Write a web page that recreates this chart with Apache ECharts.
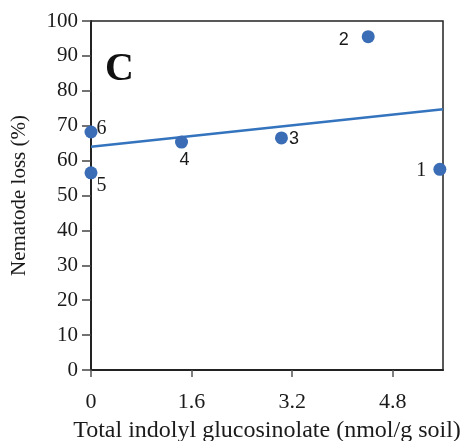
<!DOCTYPE html>
<html><head><meta charset="utf-8">
<script src="https://cdn.jsdelivr.net/npm/echarts@6/dist/echarts.min.js"></script>
<style>html,body{margin:0;padding:0;background:#fff}#c{width:465px;height:441px}</style>
</head><body><div id="c"></div>
<script>
const sampleIds = ['1','2','3','4','5','6'];
const indolyl = [5.55, 4.41, 3.03, 1.44, 0.0, 0.0];
const nematodeLoss = [57.5, 95.5, 66.5, 65.3, 56.5, 68.2];
const fitX = [0, 5.6];
const fitY = [64.0, 74.7];
const xTicks = [0, 1.6, 3.2, 4.8];
const yTicks = [0,10,20,30,40,50,60,70,80,90,100];

const serif = '"Liberation Serif","DejaVu Serif",serif';
const sans = '"Liberation Sans","DejaVu Sans",sans-serif';
const labelStyle = {
  '1':{position:'left',offset:[-2,1],fontFamily:serif,fontSize:20},
  '2':{position:'left',offset:[-8,3],fontFamily:sans,fontSize:18},
  '3':{position:'right',offset:[-4,1],fontFamily:sans,fontSize:18},
  '4':{position:'bottom',offset:[3,-3],fontFamily:sans,fontSize:18},
  '5':{position:'insideBottomRight',offset:[14,21],fontFamily:serif,fontSize:20},
  '6':{position:'insideTopRight',offset:[14,-12],fontFamily:serif,fontSize:20}
};

const chart = echarts.init(document.getElementById('c'));
chart.setOption({
  backgroundColor:'#fff',
  animation:false,
  grid:{left:91,right:22,top:21,bottom:71,outerBoundsMode:'none',containLabel:false,
    show:true,borderColor:'#222',borderWidth:1.5,backgroundColor:'transparent'},
  xAxis:{type:'value',min:0,max:5.6,interval:1.6,
    name:'Total indolyl glucosinolate (nmol/g soil)',nameLocation:'middle',nameGap:61,
    nameTextStyle:{fontFamily:serif,fontSize:24,color:'#1a1a1a',verticalAlign:'middle'},
    axisLine:{lineStyle:{color:'#222',width:2}},
    axisTick:{show:true,length:7,lineStyle:{color:'#555',width:1.5}},
    axisLabel:{showMaxLabel:false,fontFamily:serif,fontSize:22,color:'#1a1a1a',margin:21,
      formatter:v=>xTicks.includes(+v.toFixed(1))?String(+v.toFixed(1)):''},
    splitLine:{show:false}},
  yAxis:{type:'value',min:0,max:100,interval:10,
    name:'Nematode loss (%)',nameLocation:'middle',nameGap:72,
    nameTextStyle:{fontFamily:serif,fontSize:21,color:'#1a1a1a',verticalAlign:'middle'},
    axisLine:{lineStyle:{color:'#222',width:2}},
    axisTick:{show:true,length:9,lineStyle:{color:'#444',width:1.5}},
    axisLabel:{fontFamily:serif,fontSize:21,color:'#1a1a1a',margin:13,
      formatter:v=>yTicks.includes(v)?String(v):''},
    splitLine:{show:false}},
  graphic:[{type:'text',left:105,top:50,style:{text:'C',font:'bold 40px '+serif,fill:'#111'}}],
  series:[
    {type:'line',data:fitX.map((x,i)=>[x,fitY[i]]),symbol:'none',
     lineStyle:{color:'#3473bd',width:2.5},z:2},
    {type:'scatter',symbolSize:13,itemStyle:{color:'#3a6db5',opacity:1},z:3,clip:false,
     data:indolyl.map((x,i)=>{const s=labelStyle[sampleIds[i]];return {value:[x,nematodeLoss[i]],
       label:Object.assign({show:true,formatter:sampleIds[i],color:'#1a1a1a'},s)};})}
  ]
});
</script></body></html>
